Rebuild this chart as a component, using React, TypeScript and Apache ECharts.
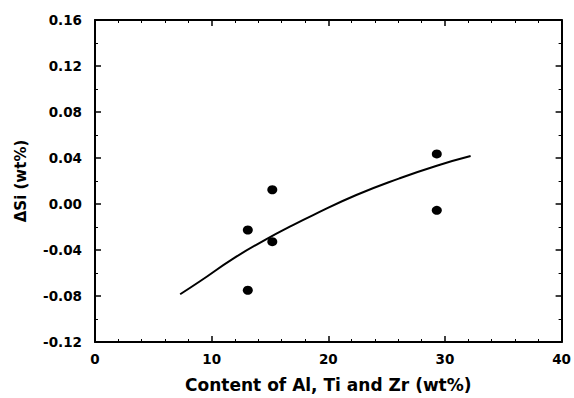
import React, { useEffect, useRef } from "react";
import * as echarts from "echarts";

const pointsX = [13.1, 13.1, 15.2, 15.2, 29.3, 29.3];
const pointsY = [-0.0226, -0.075, 0.0124, -0.0328, 0.0435, -0.0055];

const fitX = [7.3, 9.0, 11.85, 14.7, 16.7, 18.7, 22.4, 26.1, 29.3, 32.2];
const fitY = [-0.0785, -0.0672, -0.0475, -0.0305, -0.0197, -0.0096, 0.0078, 0.0223, 0.0333, 0.0417];

const xTicks = [0, 10, 20, 30, 40];
const yTicks = [-0.12, -0.08, -0.04, 0.0, 0.04, 0.08, 0.12, 0.16];

const xTitle = "Content of Al, Ti and Zr (wt%)";
const yTitle = "ΔSi (wt%)";

export default function App() {
  const ref = useRef<HTMLDivElement>(null);
  useEffect(() => {
    if (!ref.current) return;
    const chart = echarts.init(ref.current, null, { renderer: "svg" });
    const font = "'DejaVu Sans', sans-serif";
    const axisLine = { show: true, onZero: false, lineStyle: { color: "#000", width: 2 } };
    const tick = { show: true, inside: true, length: 6, lineStyle: { color: "#000", width: 1.5 } };
    const minor = (n: number) => ({ show: true, splitNumber: n, length: 3, lineStyle: { color: "#000", width: 1 } });
    const labelStyle = { color: "#000", fontSize: 13.5, fontWeight: "bold", fontFamily: font };
    chart.setOption({
      animation: false,
      backgroundColor: "#fff",
      grid: { left: 95, right: 12, top: 20, bottom: 56, containLabel: false },
      xAxis: [
        {
          type: "value",
          min: xTicks[0],
          max: xTicks[xTicks.length - 1],
          interval: 10,
          position: "bottom",
          axisLine,
          axisTick: tick,
          minorTick: minor(5),
          splitLine: { show: false },
          axisLabel: { ...labelStyle, margin: 10 },
          name: xTitle,
          nameLocation: "middle",
          nameGap: 34,
          nameTextStyle: { color: "#000", fontSize: 17, fontWeight: "bold", fontFamily: font },
        },
        {
          type: "value",
          min: xTicks[0],
          max: xTicks[xTicks.length - 1],
          interval: 10,
          position: "top",
          axisLine,
          axisTick: tick,
          minorTick: minor(5),
          splitLine: { show: false },
          axisLabel: { show: false },
        },
      ],
      yAxis: [
        {
          type: "value",
          min: yTicks[0],
          max: yTicks[yTicks.length - 1],
          interval: 0.04,
          position: "left",
          axisLine,
          axisTick: tick,
          minorTick: minor(2),
          splitLine: { show: false },
          axisLabel: {
            ...labelStyle,
            margin: 13,
            formatter: (v: number) => v.toFixed(2),
          },
          name: yTitle,
          nameLocation: "middle",
          nameGap: 67,
          nameTextStyle: { color: "#000", fontSize: 15, fontWeight: "bold", fontFamily: font },
        },
        {
          type: "value",
          min: yTicks[0],
          max: yTicks[yTicks.length - 1],
          interval: 0.04,
          position: "right",
          axisLine,
          axisTick: tick,
          minorTick: minor(2),
          splitLine: { show: false },
          axisLabel: { show: false },
        },
      ],
      series: [
        {
          type: "scatter",
          xAxisIndex: 0,
          yAxisIndex: 0,
          symbol: "circle",
          symbolSize: [10, 9],
          itemStyle: { color: "#000", opacity: 1 },
          data: pointsX.map((x, i) => [x, pointsY[i]]),
        },
        {
          type: "line",
          xAxisIndex: 0,
          yAxisIndex: 0,
          smooth: true,
          showSymbol: false,
          symbol: "none",
          lineStyle: { color: "#000", width: 2 },
          data: fitX.map((x, i) => [x, fitY[i]]),
        },
      ],
    });
    return () => chart.dispose();
  }, []);
  return <div ref={ref} style={{ position: "fixed", left: 0, top: 0, width: 574, height: 398 }} />;
}
